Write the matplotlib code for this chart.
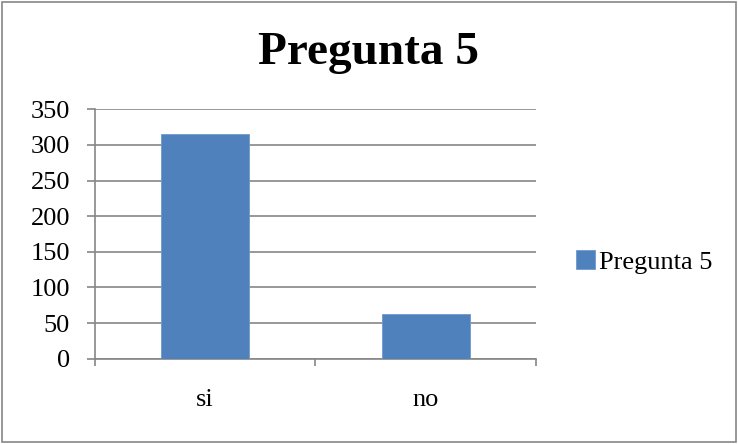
import matplotlib
matplotlib.use("Agg")
from matplotlib import pyplot as plt
from matplotlib.patches import Rectangle

categories = ["si", "no"]
values = [315, 63]
series_name = "Pregunta 5"

plt.rcParams["font.family"] = ["Liberation Serif", "DejaVu Serif"]

fig = plt.figure(figsize=(7.38, 4.44), dpi=100)
ax = fig.add_axes([0.1287, 0.1921, 0.5976, 0.5617])

x = range(len(categories))
ax.bar(x, values, width=0.4, color="#4F81BD", edgecolor="#6F98CC", linewidth=0.6,
       label=series_name, zorder=3)

ax.set_xlim(-0.5, len(categories) - 0.5)
ax.set_ylim(0, 350)
ax.set_yticks(range(0, 351, 50))
ax.yaxis.grid(True, color="#868686", linewidth=1.2, zorder=0)

for s in ["top", "right"]:
    ax.spines[s].set_visible(False)
for s in ["left", "bottom"]:
    ax.spines[s].set_color("#868686")
    ax.spines[s].set_linewidth(1.2)

ax.set_xticks(list(x))
ax.set_xticklabels(categories)
ax.tick_params(axis="x", which="major", length=0, pad=22, labelsize=19)
ax.set_xticks([-0.5, 0.5, 1.5], minor=True)
ax.tick_params(axis="x", which="minor", length=5, width=1.2, color="#868686", direction="out")
ax.tick_params(axis="y", length=6, width=1.2, color="#868686", labelsize=19, pad=12)

fig.text(0.5, 0.88, "Pregunta 5", ha="center", va="center", fontsize=34, fontweight="bold")

ax.legend(loc="center left", bbox_to_anchor=(0.78, 0.41), bbox_transform=fig.transFigure,
          frameon=False, fontsize=19, handlelength=0.75, handleheight=0.75,
          handletextpad=0.15, borderpad=0, borderaxespad=0)

fig.patches.append(Rectangle((0.003, 0.004), 0.994, 0.992, transform=fig.transFigure,
                             fill=False, edgecolor="#868686", linewidth=1.2))

fig.savefig("out.png", dpi=100)
